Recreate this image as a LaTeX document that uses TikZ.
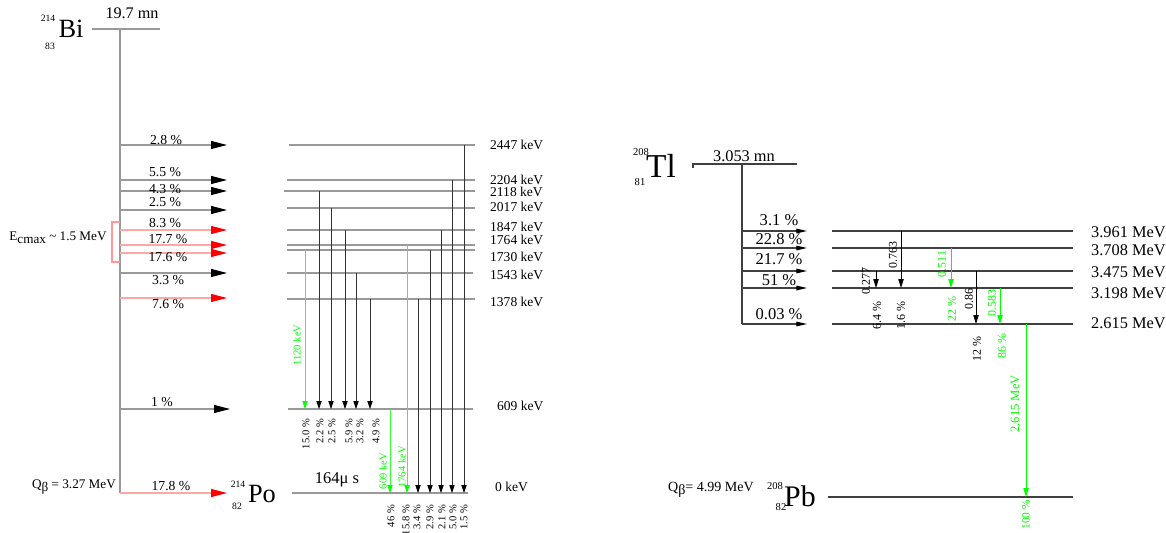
\documentclass[tikz,border=0pt]{standalone}
\usepackage{fontspec}
\setmainfont{Liberation Serif}
\usetikzlibrary{arrows.meta}

\newcommand{\fs}[1]{\fontsize{#1}{#1}\selectfont}

\begin{document}
\begin{tikzpicture}[x=0.02cm,y=-0.02cm,
  lvl/.style={gray!80,line width=0.6pt},
  tlvl/.style={black!75,line width=0.6pt},
  feedblk/.style={gray!80,line width=0.6pt,-{Triangle[length=9pt,width=4.5pt,color=black]}},
  feedred/.style={red!35,line width=0.6pt,-{Triangle[length=9pt,width=4.5pt,color=red]}},
  tfeed/.style={black!75,line width=0.6pt,-{Triangle[length=6pt,width=2.6pt,color=black]}},
  gam/.style={black!80,line width=0.4pt,-{Triangle[length=4.5pt,width=3pt,color=black]}},
  gamg/.style={green!80,line width=0.4pt,-{Triangle[length=4.5pt,width=3pt,color=green]}},
  tgam/.style={black,line width=0.5pt,-{Triangle[length=5pt,width=3pt]}},
  tgamg/.style={green,line width=0.5pt,-{Triangle[length=5pt,width=3pt]}},
  pct/.style={font=\fs{7.8}},
  tpct/.style={font=\fs{9.4}},
  kev/.style={font=\fs{7.7},anchor=west},
  mev/.style={font=\fs{9.3},anchor=west},
  rot/.style={font=\fs{6},rotate=90,anchor=east},
  trot/.style={font=\fs{6.8},rotate=90}]
  \useasboundingbox (0,0) rectangle (1166,533);

  % 214Bi parent
  \node[font=\fs{15}] (bi) at (71,29) {Bi};
  \node[font=\fs{5.5}] (biA) at (48,18) {214};
  \node[font=\fs{5.5}] (biZ) at (50,46) {83};
  \draw[lvl] (92,29) -- (160,29);
  \node[font=\fs{9.2}] (bit) at (132,13) {19.7 mn};
  \coordinate (bv) at (120,29);
  \coordinate (btip) at (227,0);
  \draw[lvl] (bv) -- (120,493);

  % beta branches to 214Po
  \foreach \y/\p/\ly/\lx/\s in {145/2.8/140/166/feedblk, 180/5.5/172/165/feedblk,
      191/4.3/189/165/feedblk, 210/2.5/202/165/feedblk, 230/8.3/223/165/feedred,
      245/17.7/239/168/feedred, 253/17.6/257/168/feedred, 273/3.3/280/168/feedblk,
      298/7.6/304/168/feedred, 493/17.8/486/171/feedred}
  {
    \draw[\s] (bv |- 0,\y) -- (btip |- 0,\y);
    \node[pct] (bp\y) at (\lx,\ly) {\p\ \%};
  }
  \draw[feedblk] (bv |- 0,409) -- (230,409);
  \node[pct] (bp409) at (162,402) {1 \%};

  % bracket for the strongest branches
  \draw[red!40,line width=0.6pt] (120,222) -- (112,222) -- (112,262) -- (120,262);
  \node[font=\fs{7.5}] (emax) at (58,238) {E\raisebox{-0.5ex}{cmax} \textasciitilde{} 1.5 MeV};
  \node[font=\fs{7.5}] (qbi) at (74,487) {Q\raisebox{-0.5ex}{β} = 3.27 MeV};

  % 214Po levels
  \foreach \e/\y/\xs/\xe/\ly in {2447/145/289/475/145, 2204/180/287/475/180,
      2118/191/284/475/192, 2017/208/287/475/207, 1847/230/287/475/227,
      1764/245/287/475/240, 1730/250/287/475/257, 1543/273/287/473/275,
      1378/299/287/475/302}
  {
    \draw[lvl] (\xs,\y) coordinate (P\e) -- (\xe,\y);
    \node[kev] (k\e) at (484,\ly) {\e\ keV};
  }
  \draw[lvl] (288,409) coordinate (P609) -- (473,409);
  \node[kev] (k609) at (491,406) {609 keV};
  \draw[lvl] (292,493) coordinate (P0) -- (468,493);
  \node[kev] (k0) at (489,487) {0 keV};
  \node[font=\fs{9.4}] (pot) at (337,480) {164μ s};
  \node[font=\fs{15}] (po) at (262,494) {Po};
  \node[font=\fs{5.5}] (poA) at (238,484) {214};
  \node[font=\fs{5.5}] (poZ) at (237,506) {82};

  % gamma lines of 214Po
  \foreach \x/\a/\b/\lx/\ly/\p in {319/2118/609/320/413/2.2, 331/2017/609/332/413/2.5,
      345/1847/609/349/413/5.9, 356/1543/609/360/413/3.2, 370/1378/609/376/413/4.9,
      418/1378/0/417/499/3.4, 430/1730/0/430/499/2.9, 441/1847/0/442/499/2.1,
      452/2204/0/453/499/5.0, 464/2447/0/464/499/1.5}
  {
    \draw[gam] (\x,0 |- P\a) -- (\x,0 |- P\b);
    \node[rot] (g\x) at (\lx,\ly) {\p\ \%};
  }
  \draw[gamg] (305,0 |- P1730) -- (305,0 |- P609);
  \node[rot,anchor=center,text=green] (e1120) at (297,345) {1120 keV};
  \node[rot] (g305) at (306,413) {15.0 \%};
  \draw[gamg] (390,0 |- P609) -- (390,0 |- P0);
  \node[rot,anchor=center,text=green] (e609) at (383,471) {609 keV};
  \node[rot] (g390) at (391,499) {46 \%};
  \draw[gamg] (407,0 |- P1764) -- (407,0 |- P0);
  \node[rot,anchor=center,text=green] (e1764) at (402,467) {1764 keV};
  \node[rot] (g407) at (406,499) {15.8 \%};

  % 208Tl parent
  \node[font=\fs{19}] (tl) at (661,166) {Tl};
  \node[font=\fs{6}] (tlA) at (641,152) {208};
  \node[font=\fs{6}] (tlZ) at (640,182) {81};
  \draw[tlvl] (693,168) -- (693,164) -- (797,164);
  \node[font=\fs{9.3}] (tlt) at (744,156) {3.053 mn};
  \coordinate (tv) at (742,164);
  \coordinate (ttip) at (807,0);
  \draw[tlvl] (tv) -- (742,324);

  % 208Pb levels
  \foreach \n/\e/\y/\ly/\p/\py in {3961/3.961/231/232/3.1/220, 3708/3.708/248/250/22.8/239,
      3475/3.475/271/272/21.7/259, 3198/3.198/288/293/51/280, 2615/2.615/324/323/0.03/314}
  {
    \draw[tlvl] (832,\y) coordinate (T\n) -- (1073,\y);
    \node[mev] (m\n) at (1085,\ly) {\e\ MeV};
    \draw[tfeed] (tv |- T\n) -- (ttip |- T\n);
    \node[tpct] (tp\n) at (779,\py) {\p\ \%};
  }
  \draw[tlvl] (828,497) coordinate (T0) -- (1073,497);
  \node[font=\fs{17}] (pb) at (800,496) {Pb};
  \node[font=\fs{6}] (pbA) at (775,486) {208};
  \node[font=\fs{6}] (pbZ) at (781,507) {82};
  \node[font=\fs{8}] (qtl) at (711,490) {Q\raisebox{-0.5ex}{β}= 4.99 MeV};

  % gamma lines of 208Pb
  \draw[tgam] (876,0 |- T3475) -- (876,0 |- T3198);
  \node[trot] (x277) at (866,281) {0.277};
  \node[trot,anchor=east] (y277) at (877,295) {6.4 \%};
  \draw[tgam] (901,0 |- T3961) -- (901,0 |- T3198);
  \node[trot] (x763) at (893,255) {0.763};
  \node[trot,anchor=east] (y763) at (901,295) {1.6 \%};
  \draw[tgamg] (951,0 |- T3708) -- (951,0 |- T3198);
  \node[trot,text=green] (x511) at (942,264) {0.511};
  \node[trot,anchor=east,text=green] (y511) at (952,290) {22 \%};
  \draw[tgam] (976,0 |- T3475) -- (976,0 |- T2615);
  \node[trot] (x860) at (969,299) {0.86};
  \node[trot,anchor=east] (y860) at (977,330) {12 \%};
  \draw[tgamg] (1000,0 |- T3198) -- (1000,0 |- T2615);
  \node[trot,text=green] (x583) at (992,303) {0.583};
  \node[trot,anchor=east,text=green] (y583) at (1002,327) {86 \%};
  \draw[tgamg] (1026,0 |- T2615) -- (1026,0 |- T0);
  \node[trot,font=\fs{7.2},text=green] (x2615) at (1015,404) {2.615 MeV};
  \node[trot,anchor=east,text=green,font=\fs{6.5},inner sep=1pt] (y2615) at (1026,498) {100 \%};
\end{tikzpicture}
\end{document}
